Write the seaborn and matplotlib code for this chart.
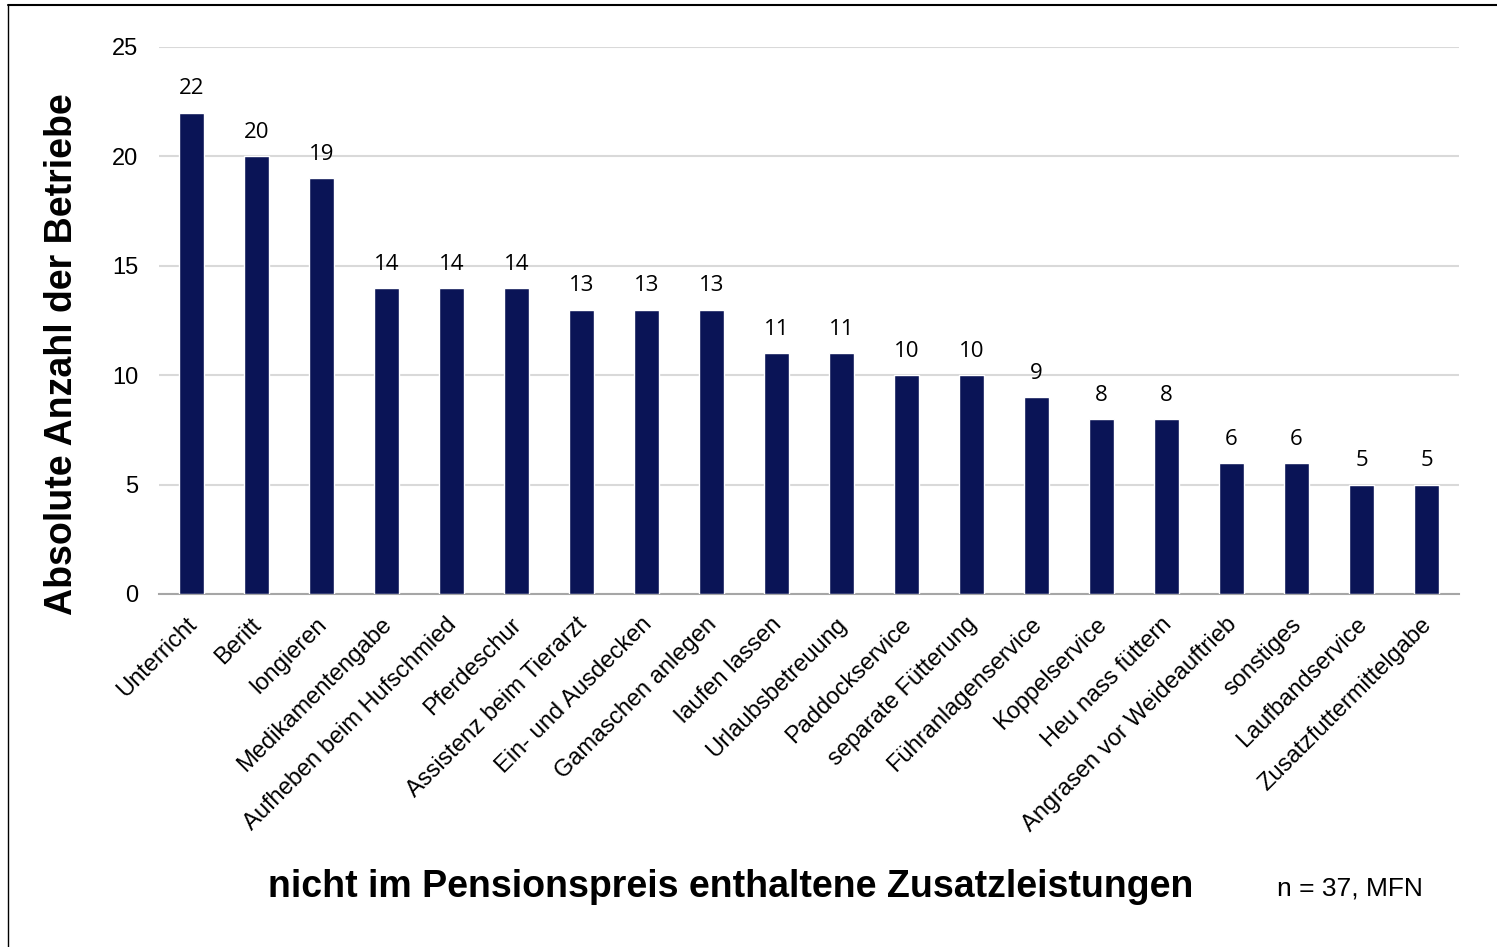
import matplotlib
matplotlib.use("Agg")
import matplotlib.pyplot as plt
import matplotlib.transforms as mtransforms
import seaborn as sns
import pandas as pd
from matplotlib.lines import Line2D

categories = [
    "Unterricht", "Beritt", "longieren", "Medikamentengabe",
    "Aufheben beim Hufschmied", "Pferdeschur", "Assistenz beim Tierarzt",
    "Ein- und Ausdecken", "Gamaschen anlegen", "laufen lassen",
    "Urlaubsbetreuung", "Paddockservice", "separate Fütterung",
    "Führanlagenservice", "Koppelservice", "Heu nass füttern",
    "Angrasen vor Weideauftrieb", "sonstiges", "Laufbandservice",
    "Zusatzfuttermittelgabe",
]
counts = [22, 20, 19, 14, 14, 14, 13, 13, 13, 11, 11, 10, 10, 9, 8, 8, 6, 6, 5, 5]
y_ticks = [0, 5, 10, 15, 20, 25]

df = pd.DataFrame({"Leistung": categories, "Anzahl": counts})

sns.set_style("white")
plt.rcParams["font.family"] = ["Liberation Sans", "DejaVu Sans"]
plt.rcParams["text.color"] = "black"
plt.rcParams["xtick.color"] = "black"
plt.rcParams["ytick.color"] = "black"
plt.rcParams["axes.labelcolor"] = "black"

fig = plt.figure(figsize=(14.97, 9.47), dpi=100)
ax = fig.add_axes([0.1062, 0.3728, 0.8684, 0.5776])

sns.barplot(data=df, x="Leistung", y="Anzahl", color="#0a1456",
            saturation=1, width=0.37, ax=ax, zorder=3)

for i, v in enumerate(counts):
    ax.text(i, v + 0.6, str(v), ha="center", va="bottom",
            fontsize=16, family=["Open Sans", "DejaVu Sans"], color="black")

ax.set_ylim(0, 25)
ax.set_xlim(-0.5, len(categories) - 0.5)
ax.set_yticks(y_ticks)
ax.yaxis.grid(True, color="#d9d9d9", linewidth=1.5, zorder=0)
ax.tick_params(axis="y", labelsize=17, length=0, pad=15)
ax.tick_params(axis="x", labelsize=17, length=0, pad=4)
plt.setp(ax.get_xticklabels(), rotation=45, ha="right", rotation_mode="anchor")
# nudge rotated labels a bit down/left like the original
offset = mtransforms.ScaledTranslation(-6 / 100, -14 / 100, fig.dpi_scale_trans)
for lab in ax.get_xticklabels():
    lab.set_transform(lab.get_transform() + offset)
for side in ["top", "right", "left"]:
    ax.spines[side].set_visible(False)
ax.spines["bottom"].set_color("#a6a6a6")
ax.spines["bottom"].set_linewidth(1.5)

ax.set_xlabel("")
ax.set_ylabel("Absolute Anzahl der Betriebe", fontsize=27, fontweight="bold")
ax.yaxis.set_label_coords(-0.0608, 0.439)

fig.text(0.488, 0.0634, "nicht im Pensionspreis enthaltene Zusatzleistungen",
         ha="center", va="center", fontsize=27, fontweight="bold")
fig.text(0.902, 0.062, "n = 37, MFN", ha="center", va="center", fontsize=19)

# outer frame (top and left edges visible)
fig.add_artist(Line2D([8 / 1497, 1.0], [1 - 5 / 947, 1 - 5 / 947],
                      transform=fig.transFigure, color="black", linewidth=1.5))
fig.add_artist(Line2D([8 / 1497, 8 / 1497], [0.0, 1 - 5 / 947],
                      transform=fig.transFigure, color="black", linewidth=1.0))

fig.savefig("out.png", dpi=100)
plt.close(fig)
